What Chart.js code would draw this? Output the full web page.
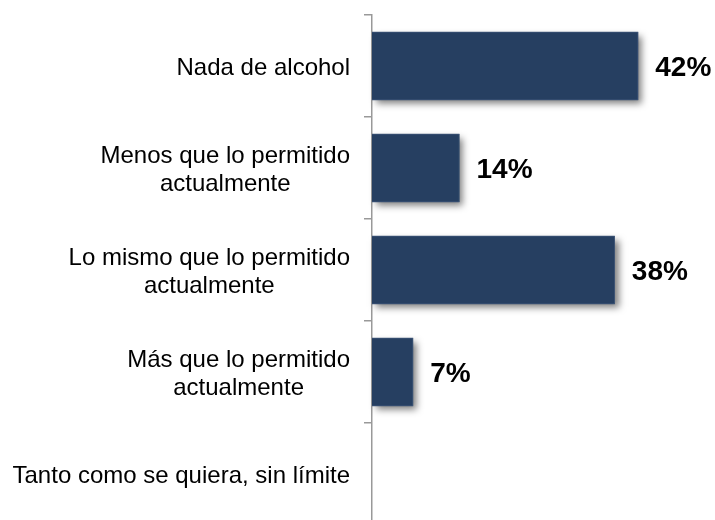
<!DOCTYPE html>
<html>
<head>
<meta charset="utf-8">
<script src="https://cdn.jsdelivr.net/npm/chart.js@4"></script>
<style>
html,body{margin:0;padding:0;background:#fff;overflow:hidden;}
#wrap{width:715px;height:528px;position:relative;}
</style>
</head>
<body>
<div id="wrap"><canvas id="c" width="715" height="528"></canvas></div>
<script>
const categories = [
  ["Nada de alcohol"],
  ["Menos que lo permitido", "actualmente"],
  ["Lo mismo que lo permitido", "actualmente"],
  ["Más que lo permitido", "actualmente"],
  ["Tanto como se quiera, sin límite"]
];
const values = [42, 13.8, 38.3, 6.5, 0];
const valueLabels = ["42%", "14%", "38%", "7%", ""];
const xMax = 50;

const catFont = '24px "Liberation Sans", Arial, sans-serif';
const valFont = 'bold 28px "Liberation Sans", Arial, sans-serif';

const shadowPlugin = {
  id: 'barShadow',
  beforeDatasetsDraw(chart) {
    const ctx = chart.ctx;
    const meta = chart.getDatasetMeta(0);
    ctx.save();
    ctx.shadowColor = 'rgba(0,0,0,0.5)';
    ctx.shadowBlur = 7;
    ctx.shadowOffsetX = 4;
    ctx.shadowOffsetY = 4;
    ctx.fillStyle = '#263f61';
    meta.data.forEach((bar, i) => {
      if (!values[i]) return;
      const x0 = Math.min(bar.base, bar.x), w = Math.abs(bar.x - bar.base);
      ctx.fillRect(x0, bar.y - bar.height / 2, w, bar.height);
    });
    ctx.restore();
  }
};

const labelPlugin = {
  id: 'labels',
  afterDraw(chart) {
    const ctx = chart.ctx;
    const y = chart.scales.y;
    const meta = chart.getDatasetMeta(0);
    ctx.save();
    ctx.font = catFont;
    ctx.fillStyle = '#000';
    ctx.textBaseline = 'middle';
    ctx.textAlign = 'center';
    const rightEdge = y.right - 22;
    const lh = 28;
    categories.forEach((lines, i) => {
      const cy = y.getPixelForValue(i) + 2;
      const w = Math.max(...lines.map(l => ctx.measureText(l).width));
      const cx = rightEdge - w / 2;
      const start = cy - (lines.length - 1) * lh / 2;
      lines.forEach((l, k) => ctx.fillText(l, cx, start + k * lh));
    });
    ctx.font = valFont;
    ctx.textAlign = 'left';
    meta.data.forEach((bar, i) => {
      if (!valueLabels[i]) return;
      ctx.fillText(valueLabels[i], bar.x + 17, bar.y + 2);
    });
    ctx.restore();
  }
};

new Chart(document.getElementById('c'), {
  type: 'bar',
  data: {
    labels: categories.map(c => c.join(' ')),
    datasets: [{
      data: values,
      backgroundColor: '#263f61',
      borderColor: '#40587a',
      borderWidth: 1,
      borderSkipped: 'left',
      categoryPercentage: 1,
      barPercentage: 0.67
    }]
  },
  options: {
    indexAxis: 'y',
    responsive: false,
    animation: false,
    events: [],
    layout: { padding: { top: 15, right: 26, bottom: 3, left: 0 } },
    plugins: { legend: { display: false }, tooltip: { enabled: false } },
    scales: {
      x: { display: false, min: 0, max: xMax },
      y: {
        offset: true,
        ticks: { display: false },
        grid: { offset: true, drawOnChartArea: false, drawTicks: true, tickLength: 8, color: '#999', lineWidth: 1.5 },
        border: { display: true, color: '#999', width: 1.5 },
        afterFit(scale) { scale.width = 372; }
      }
    }
  },
  plugins: [shadowPlugin, labelPlugin]
});
</script>
</body>
</html>
